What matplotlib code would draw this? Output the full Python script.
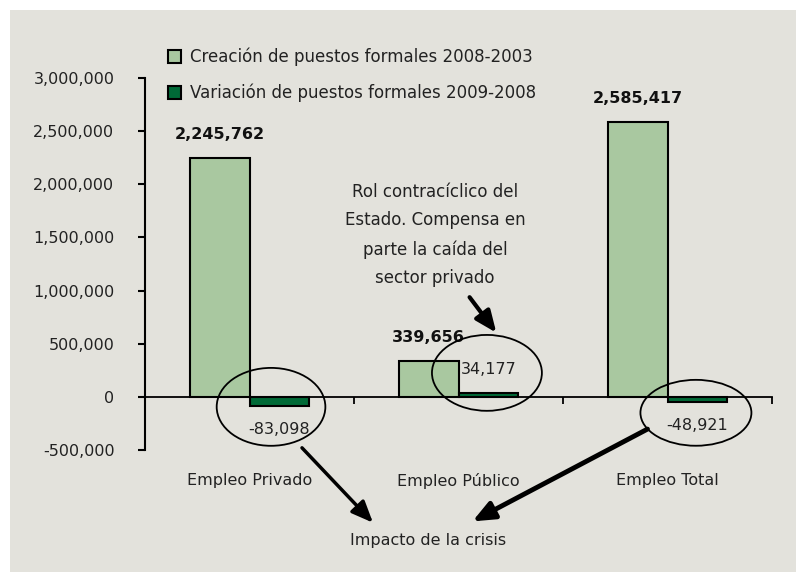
import matplotlib
matplotlib.use("Agg")
import matplotlib.pyplot as plt
import numpy as np
from matplotlib.patches import Ellipse, Rectangle, Patch

categories = ["Empleo Privado", "Empleo Público", "Empleo Total"]
creacion = [2245762, 339656, 2585417]
variacion = [-83098, 34177, -48921]
serie_labels = ["Creación de puestos formales 2008-2003",
                "Variación de puestos formales 2009-2008"]
yticks = [-500000, 0, 500000, 1000000, 1500000, 2000000, 2500000, 3000000]

light = "#A9C8A0"
dark = "#006A37"
bg = "#E3E2DC"
fs = 11.5

plt.rcParams['font.family'] = ['DejaVu Sans']

fig = plt.figure(figsize=(7.96, 5.72), dpi=100)
fig.patches.append(Rectangle((10/796, 0), 1, 1 - 10/572, transform=fig.transFigure,
                             facecolor=bg, edgecolor='none', zorder=-10))

ax = fig.add_axes([145/796, 1 - 450/572, (772-145)/796, (450-78)/572])
ax.set_facecolor('none')

x = np.arange(len(categories))
w = 0.287
b1 = ax.bar(x - w/2, creacion, w, color=light, edgecolor='black', linewidth=1.5, zorder=3)
b2 = ax.bar(x + w/2, variacion, w, color=dark, edgecolor='black', linewidth=1.5, zorder=3)

ax.set_xlim(-0.5, 2.5)
ax.set_ylim(-500000, 3000000)
ax.set_yticks(yticks)
ax.set_yticklabels([f"{v:,}" for v in yticks], fontsize=fs, color='#222222')
ax.tick_params(axis='y', length=5, width=1.5, pad=17)

for s in ['top', 'right']:
    ax.spines[s].set_visible(False)
ax.spines['left'].set_linewidth(1.5)
ax.spines['bottom'].set_position(('data', 0))
ax.spines['bottom'].set_linewidth(1.3)
ax.set_xticks([0.5, 1.5, 2.5])
ax.set_xticklabels([])
ax.tick_params(axis='x', length=5, width=1.3, direction='out')

for i, c in enumerate(categories):
    ax.text(i, -790000, c, ha='center', va='center', fontsize=fs, color='#222222')

# etiquetas de valores
for i in range(len(categories)):
    ax.annotate(f"{creacion[i]:,}", (x[i] - w/2, creacion[i]), xytext=(0, 17),
                textcoords='offset points', ha='center', va='center',
                fontsize=fs, fontweight='bold', color='#111111')
    v = variacion[i]
    off = 17 if v > 0 else -17
    ax.annotate(f"{v:,}", (x[i] + w/2, v), xytext=(0, off),
                textcoords='offset points', ha='center', va='center',
                fontsize=fs, color='#222222')

# elipses
for cx, cy, ew, eh in [(0.103, -94000, 0.52, 733000),
                       (1.136, 225600, 0.526, 714000),
                       (2.136, -150000, 0.531, 620000)]:
    ax.add_patch(Ellipse((cx, cy), ew, eh, fill=False, edgecolor='black',
                         linewidth=1.3, clip_on=False, zorder=5))

# flechas
head = '-|>,head_length=1.3,head_width=0.55'
ax.annotate("", xy=(0.600, -1203000), xytext=(0.242, -460500), annotation_clip=False,
            arrowprops=dict(arrowstyle=head, color='black', lw=2.5))
ax.annotate("", xy=(1.055, -1184000), xytext=(1.916, -291000), annotation_clip=False,
            arrowprops=dict(arrowstyle=head, color='black', lw=3.5))
ax.annotate("", xy=(1.189, 582700), xytext=(1.045, 958600), annotation_clip=False,
            arrowprops=dict(arrowstyle=head, color='black', lw=3))

ax.text(0.854, -1353000, "Impacto de la crisis", ha='center', va='center',
        fontsize=fs, color='#222222', clip_on=False)
ax.text(0.888, 1522000, "Rol contracíclico del\nEstado. Compensa en\nparte la caída del\nsector privado",
        ha='center', va='center', fontsize=fs + 0.5, color='#222222', linespacing=1.75)

handles = [Patch(facecolor=light, edgecolor='black', linewidth=1.5),
           Patch(facecolor=dark, edgecolor='black', linewidth=1.5)]
fig.legend(handles, serie_labels, loc='upper left', bbox_to_anchor=(168/796, 1 - 48/572),
           frameon=False, fontsize=12, handlelength=0.8, handleheight=0.8,
           handletextpad=0.5, labelspacing=1.05, borderpad=0, borderaxespad=0,
           labelcolor='#222222')

fig.savefig("out.png", dpi=100)
